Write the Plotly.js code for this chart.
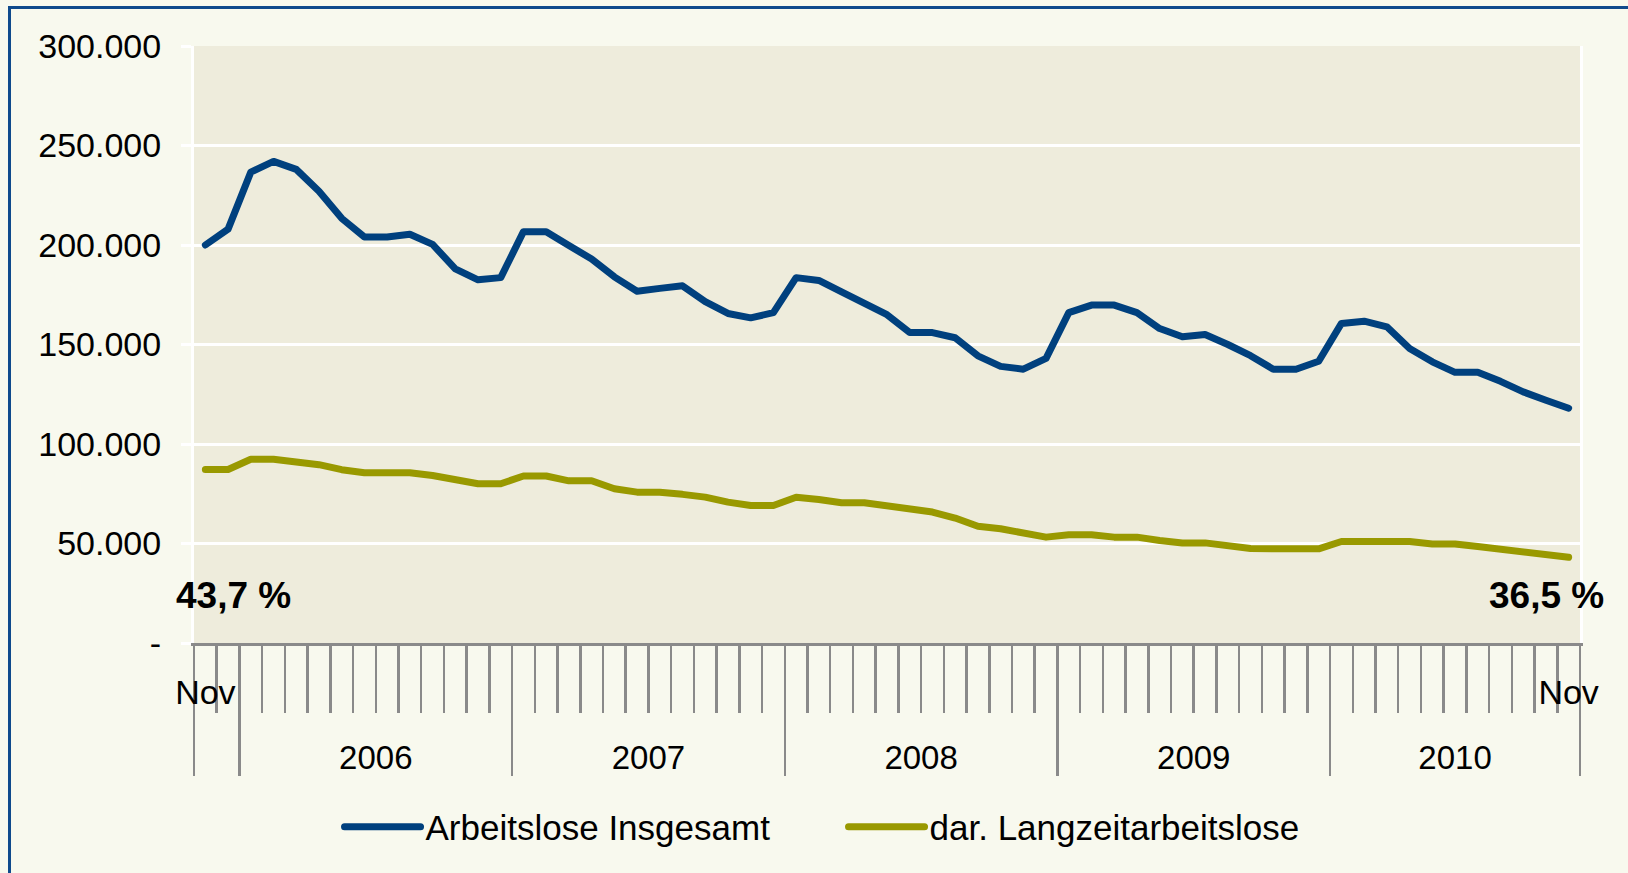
<!DOCTYPE html>
<html><head><meta charset="utf-8">
<script src="https://cdn.plot.ly/plotly-3.0.1.min.js"></script>
<style>
html,body{margin:0;padding:0;background:#f8f9ee;overflow:hidden}
#chart{position:absolute;left:0;top:0;width:1628px;height:873px}
#frame{position:absolute;left:8px;top:6px;width:1700px;height:950px;border-top:3px solid #0f4a8c;border-left:3px solid #0f4a8c;pointer-events:none}
.scatterlayer .js-line{stroke-linejoin:round;stroke-linecap:round}
.legend .js-line{stroke-linecap:round;stroke-width:7px !important}
</style></head><body>
<div id="chart"></div><div id="frame"></div>
<script>
const months = [
 "Nov 2005","Dez 2005",
 "Jan 2006","Feb 2006","Mrz 2006","Apr 2006","Mai 2006","Jun 2006","Jul 2006","Aug 2006","Sep 2006","Okt 2006","Nov 2006","Dez 2006",
 "Jan 2007","Feb 2007","Mrz 2007","Apr 2007","Mai 2007","Jun 2007","Jul 2007","Aug 2007","Sep 2007","Okt 2007","Nov 2007","Dez 2007",
 "Jan 2008","Feb 2008","Mrz 2008","Apr 2008","Mai 2008","Jun 2008","Jul 2008","Aug 2008","Sep 2008","Okt 2008","Nov 2008","Dez 2008",
 "Jan 2009","Feb 2009","Mrz 2009","Apr 2009","Mai 2009","Jun 2009","Jul 2009","Aug 2009","Sep 2009","Okt 2009","Nov 2009","Dez 2009",
 "Jan 2010","Feb 2010","Mrz 2010","Apr 2010","Mai 2010","Jun 2010","Jul 2010","Aug 2010","Sep 2010","Okt 2010","Nov 2010"
];
const totalUnemployed = [
 200000,208000,
 236600,242000,238000,227000,213400,204000,204000,205400,200300,188000,182500,183600,
 206700,206700,199700,193000,184000,176800,178200,179500,171500,165600,163400,166000,
 183600,182200,176500,171000,165000,156000,156000,153400,144300,139000,137600,143000,
 166000,169800,169800,166000,158000,153900,155000,150000,144400,137600,137600,141600,
 160600,161700,158900,148000,141300,136000,136000,131500,126200,122000,118000
];
const longTermUnemployed = [
 87200,87200,
 92300,92300,91000,89600,87100,85600,85600,85600,84200,82000,80000,80000,
 83900,83900,81500,81500,77500,75800,75800,74700,73300,70800,69100,69100,
 73200,72100,70500,70500,68800,67400,65800,62800,58700,57400,54900,53200,
 54400,54400,53200,53200,51500,50300,50300,49000,47500,47300,47300,47300,
 51000,51000,51000,51000,49800,49800,48500,47300,46000,44600,43100
];
const seriesNames = ["Arbeitslose Insgesamt","dar. Langzeitarbeitslose"];
const seriesColors = ["#00407e","#999900"];
const yTickValues = [0,50000,100000,150000,200000,250000,300000];
const yTickLabels = ["-","50.000","100.000","150.000","200.000","250.000","300.000"];
const edgeMonthLabel = "Nov";
const shareLabels = ["43,7 %","36,5 %"];

const FONT = "Liberation Sans, Arial, sans-serif";
const idx = months.map((m,i)=>i);
const n = months.length;
const yearOf = months.map(m=>m.slice(-4));

const monthBounds = [];
for(let i=0;i<=n;i++) monthBounds.push(i-0.5);
const yearBounds = [-0.5];
const groupCenters = [], groupLabels = [];
let start = 0;
for(let i=1;i<=n;i++){
  if(i===n || yearOf[i]!==yearOf[i-1]){
    yearBounds.push(i-0.5);
    if(i-start >= 6){ groupCenters.push((start+i-1)/2); groupLabels.push(yearOf[start]); }
    start = i;
  }
}

const traces = [
  {x: idx, y: totalUnemployed, type:"scatter", mode:"lines", name: seriesNames[0],
   line:{color: seriesColors[0], width:7}, hoverinfo:"skip"},
  {x: idx, y: longTermUnemployed, type:"scatter", mode:"lines", name: seriesNames[1],
   line:{color: seriesColors[1], width:7}, hoverinfo:"skip"},
  {x:[0], y:[null], xaxis:"x2", type:"scatter", mode:"lines", showlegend:false, hoverinfo:"skip"},
  {x:[0], y:[null], xaxis:"x3", type:"scatter", mode:"lines", showlegend:false, hoverinfo:"skip"},
  {x:[0], y:[null], xaxis:"x4", type:"scatter", mode:"lines", showlegend:false, hoverinfo:"skip"}
];

const xRange = [-0.5, n-0.5];
const baseX = {range:xRange, showgrid:false, zeroline:false, fixedrange:true};
const layout = {
  width:1628, height:873,
  paper_bgcolor:"#f8f9ee", plot_bgcolor:"#eeecdc",
  margin:{l:194, r:48, t:46, b:230, autoexpand:false},
  font:{family:FONT, size:33, color:"#000"},
  showlegend:true,
  hovermode:false,
  xaxis: Object.assign({}, baseX, {
    tickmode:"array", tickvals: monthBounds, ticktext: monthBounds.map(()=>""),
    ticks:"outside", ticklen:67, tickwidth:2.5, tickcolor:"#8a8a8a",
    showline:true, linecolor:"#8a8a8a", linewidth:3
  }),
  xaxis2: Object.assign({}, baseX, {
    overlaying:"x", anchor:"y", side:"bottom",
    tickmode:"array", tickvals: yearBounds, ticktext: yearBounds.map(()=>""),
    ticks:"outside", ticklen:132, tickwidth:2.5, tickcolor:"#8a8a8a", showline:false
  }),
  xaxis3: Object.assign({}, baseX, {
    overlaying:"x", anchor:"y", side:"bottom",
    tickmode:"array", tickvals:[0, n-1], ticktext:[edgeMonthLabel, edgeMonthLabel],
    ticks:"outside", ticklen:19, tickcolor:"rgba(0,0,0,0)", showline:false,
    tickfont:{family:FONT, size:34, color:"#000"}
  }),
  xaxis4: Object.assign({}, baseX, {
    overlaying:"x", anchor:"y", side:"bottom",
    tickmode:"array", tickvals: groupCenters, ticktext: groupLabels,
    ticks:"outside", ticklen:85, tickcolor:"rgba(0,0,0,0)", showline:false,
    tickfont:{family:FONT, size:33, color:"#000"}
  }),
  yaxis: {
    range:[0,300000], tickmode:"array", tickvals:yTickValues, ticktext:yTickLabels,
    showgrid:true, gridcolor:"#ffffff", gridwidth:3, zeroline:false,
    ticks:"outside", ticklen:10, tickwidth:3, tickcolor:"#ffffff",
    ticklabelstandoff:13,
    showline:true, linecolor:"#ffffff", linewidth:3, mirror:true,
    tickfont:{family:FONT, size:34, color:"#000"}, fixedrange:true
  },
  legend:{
    orientation:"h", x:0.105, xanchor:"left", y:-0.308, yanchor:"middle",
    font:{family:FONT, size:35, color:"#000"}, bgcolor:"rgba(0,0,0,0)",
    itemwidth:76, entrywidth:413, entrywidthmode:"pixels"
  },
  annotations:[
    {xref:"x", yref:"paper", x:0, y:0.079, xanchor:"left", yanchor:"middle", xshift:-31,
     text:"<b>"+shareLabels[0]+"</b>", showarrow:false, font:{family:FONT, size:37, color:"#000"}},
    {xref:"x", yref:"paper", x:n-1, y:0.079, xanchor:"right", yanchor:"middle", xshift:37,
     text:"<b>"+shareLabels[1]+"</b>", showarrow:false, font:{family:FONT, size:37, color:"#000"}}
  ]
};
Plotly.newPlot("chart", traces, layout, {displayModeBar:false, staticPlot:true});
</script></body></html>
